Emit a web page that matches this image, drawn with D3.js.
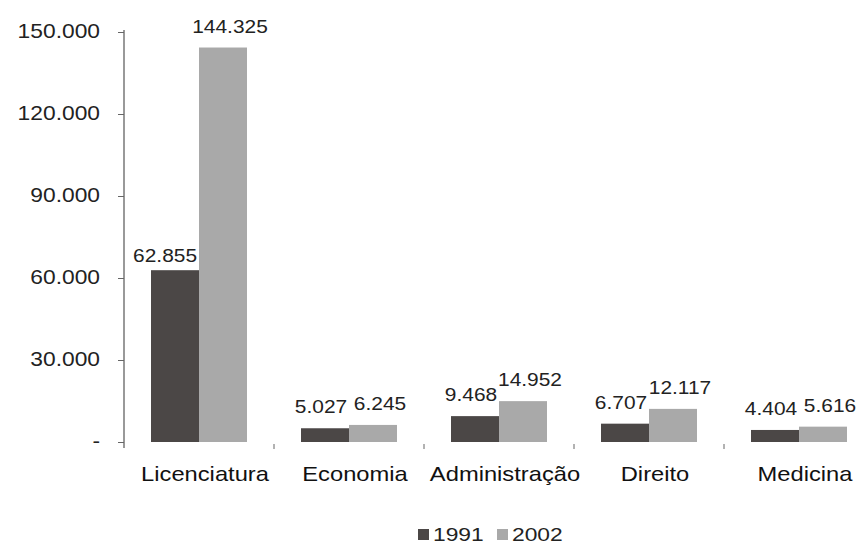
<!DOCTYPE html>
<html><head><meta charset="utf-8">
<script src="https://cdn.jsdelivr.net/npm/d3@7"></script>
<style>
html,body{margin:0;padding:0;background:#fff;}
svg{display:block;font-family:"Liberation Sans",Arial,sans-serif;}
</style></head>
<body>
<svg id="chart" width="859" height="545"></svg>
<script>
const categories = ["Licenciatura","Economia","Administração","Direito","Medicina"];
const seriesNames = ["1991","2002"];
const values1991 = [62855, 5027, 9468, 6707, 4404];
const values2002 = [144325, 6245, 14952, 12117, 5616];
const yTicks = [0, 30000, 60000, 90000, 120000, 150000];
const colors = ["#4b4746","#a9a9a9"];

const SX = 1.14; // horizontal stretch of the reference's lettering
function stretched(sel, x, y, sx = SX) {
  return sel.attr("x", 0).attr("y", 0)
    .attr("transform", `translate(${x},${y}) scale(${sx},1)`);
}

const svg = d3.select("#chart");
const x = d3.scaleBand().domain(categories).range([124, 874]);
const y = d3.scaleLinear().domain([0,150000]).range([442, 32]);
const fmt = v => v === 0 ? "-" : d3.format(",")(v).replace(/,/g, ".");

// y axis
const yAxis = d3.axisLeft(y).tickValues(yTicks).tickFormat(fmt).tickSize(6).tickPadding(17);
const gy = svg.append("g").attr("transform","translate(124,0)").call(yAxis);
gy.select(".domain").attr("d","M0,30V448").attr("stroke","#555").attr("stroke-width",1.2);
gy.selectAll(".tick line").attr("stroke","#666");
gy.selectAll(".tick text").attr("font-size",20).attr("fill","#222").attr("dy",null)
  .each(function(){
    stretched(d3.select(this), -24, 5);
  });

// category boundary ticks
const boundaries = categories.slice(1).map(c => x(c));
svg.append("g").selectAll("line").data(boundaries).join("line")
  .attr("x1",d=>d).attr("x2",d=>d).attr("y1",444).attr("y2",449)
  .attr("stroke","#666").attr("stroke-width",1);

const bw = 48;
const inner = d3.scaleBand().domain([0,1]).range([-bw, bw]);
const labelShift = [-4, 7];

const g = svg.append("g");
categories.forEach((c,i)=>{
  const vals = [values1991[i], values2002[i]];
  const cx = x(c) + x.bandwidth()/2;
  vals.forEach((v,k)=>{
    const bx = cx + inner(k);
    g.append("rect")
      .attr("x", bx).attr("width", inner.bandwidth())
      .attr("y", y(v)).attr("height", y(0)-y(v))
      .attr("fill", colors[k]);
    let lx = bx + inner.bandwidth()/2 + labelShift[k];
    let ly = y(v) - 15;
    let anchor = "middle";
    // avoid collision with a much taller neighbour bar
    const other = vals[1-k];
    if (k === 0 && y(other) < ly - 20) { lx = bx + inner.bandwidth() - 2; ly = y(v) - 8; anchor = "end"; }
    const t = g.append("text").attr("text-anchor",anchor).attr("font-size",19).attr("fill","#222").text(fmt(v));
    stretched(t, lx, ly, 1.1);
  });
  const t = svg.append("text").attr("text-anchor","middle").attr("font-size",21).attr("fill","#111").text(c);
  stretched(t, cx + 6, 481, 1.13);
});

// legend
const leg = svg.append("g");
const legX = [418, 497];
seriesNames.forEach((s,k)=>{
  leg.append("rect").attr("x",legX[k]).attr("y",529).attr("width",11).attr("height",11).attr("fill",colors[k]);
  const t = leg.append("text").attr("font-size",19).attr("fill","#222").text(s);
  stretched(t, legX[k]+15, 541, 1.2);
});
</script>
</body></html>
